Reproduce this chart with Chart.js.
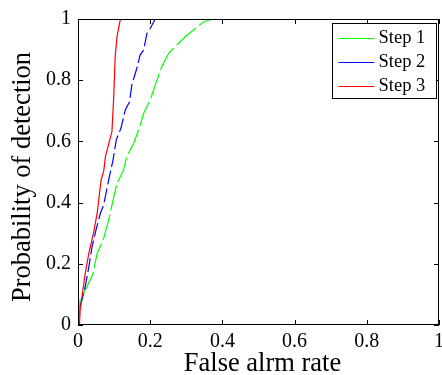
<!DOCTYPE html>
<html>
<head>
<meta charset="utf-8">
<script src="https://cdn.jsdelivr.net/npm/chart.js@4/dist/chart.umd.min.js"></script>
<style>
  html, body { margin: 0; padding: 0; background: #fff; }
  #wrap { width: 442px; height: 375px; }
</style>
</head>
<body>
<div id="wrap"><canvas id="roc" width="442" height="375"></canvas></div>
<script>
// values
const seriesNames = ['Step 1', 'Step 2', 'Step 3']
const seriesColors = ['#00ff00', '#0000ff', '#ff0000']

const step1X = [0, 0.006, 0.025, 0.042, 0.053, 0.071, 0.085, 0.094, 0.108, 0.126, 0.135, 0.154, 0.168, 0.182, 0.2, 0.219, 0.232, 0.251, 0.274, 0.297, 0.32, 0.348, 0.375, 0.532]
const step1Y = [0, 0.082, 0.125, 0.169, 0.234, 0.283, 0.343, 0.392, 0.463, 0.506, 0.55, 0.594, 0.637, 0.692, 0.735, 0.801, 0.844, 0.888, 0.915, 0.942, 0.964, 0.991, 1, 1]

const step2X = [0, 0.002, 0.011, 0.02, 0.03, 0.039, 0.051, 0.062, 0.071, 0.085, 0.097, 0.106, 0.119, 0.131, 0.143, 0.149, 0.163, 0.172, 0.182, 0.191, 0.2, 0.214, 0.31]
const step2Y = [0, 0.038, 0.082, 0.125, 0.19, 0.256, 0.316, 0.365, 0.392, 0.474, 0.539, 0.605, 0.643, 0.703, 0.73, 0.784, 0.839, 0.882, 0.899, 0.953, 0.969, 1, 1]

const step3X = [0.004, 0.006, 0.02, 0.03, 0.043, 0.053, 0.064, 0.071, 0.076, 0.088, 0.094, 0.099, 0.103, 0.108, 0.117, 0.122]
const step3Y = [0, 0.049, 0.169, 0.234, 0.3, 0.365, 0.474, 0.501, 0.55, 0.605, 0.632, 0.746, 0.877, 0.942, 0.997, 1]

const xTicks = [0, 0.2, 0.4, 0.6, 0.8, 1]
const yTicks = [0, 0.2, 0.4, 0.6, 0.8, 1]

const xTitle = 'False alrm rate'
const yTitle = 'Probability of detection'

const serif = '"Liberation Serif", "DejaVu Serif", serif'

const toPoints = (xs, ys) => xs.map((x, i) => ({ x, y: ys[i] }))

const seriesData = [toPoints(step1X, step1Y), toPoints(step2X, step2Y), toPoints(step3X, step3Y)]
const dashes = [[26, 4], [14, 4], []]

// frame, inward ticks on all four sides, axis titles and the boxed legend
const framePlugin = {
  id: 'frame',
  afterDraw (chart) {
    const { ctx, chartArea: a, scales } = chart
    ctx.save()
    ctx.strokeStyle = '#000'
    ctx.lineWidth = 1
    ctx.strokeRect(a.left + 0.5, a.top + 0.5, a.right - a.left - 1, a.bottom - a.top - 1)
    ctx.beginPath()
    xTicks.forEach(v => {
      const px = Math.round(scales.x.getPixelForValue(v)) + 0.5
      ctx.moveTo(px, a.bottom); ctx.lineTo(px, a.bottom - 5)
      ctx.moveTo(px, a.top); ctx.lineTo(px, a.top + 5)
    })
    yTicks.forEach(v => {
      const py = Math.round(scales.y.getPixelForValue(v)) + 0.5
      ctx.moveTo(a.left, py); ctx.lineTo(a.left + 5, py)
      ctx.moveTo(a.right, py); ctx.lineTo(a.right - 5, py)
    })
    ctx.stroke()

    // axis titles
    ctx.fillStyle = '#000'
    ctx.textAlign = 'center'
    ctx.textBaseline = 'alphabetic'
    ctx.font = '26.5px ' + serif
    ctx.fillText(xTitle, (a.left + a.right) / 2 + 4, 370.5)
    ctx.save()
    ctx.translate(30, 177)
    ctx.rotate(-Math.PI / 2)
    ctx.font = '26.5px ' + serif
    ctx.fillText(yTitle, 0, 0)
    ctx.restore()

    // legend
    const bx = 332.5, by = 23.5, bw = 104, bh = 75
    ctx.fillStyle = '#fff'
    ctx.fillRect(bx, by, bw, bh)
    ctx.strokeRect(bx, by, bw, bh)
    ctx.font = '18.5px ' + serif
    ctx.textBaseline = 'middle'
    ctx.textAlign = 'left'
    chart.data.datasets.forEach((ds, i) => {
      const y = by + 14 + i * 24
      ctx.strokeStyle = ds.borderColor
      ctx.beginPath()
      ctx.moveTo(bx + 6, Math.round(y) + 0.5)
      ctx.lineTo(bx + 42, Math.round(y) + 0.5)
      ctx.stroke()
      ctx.fillStyle = '#000'
      ctx.fillText(ds.label, bx + 46, y + 1)
    })
    ctx.restore()
  }
}

const ctx = document.getElementById('roc').getContext('2d')
// eslint-disable-next-line
new Chart(ctx, {
  type: 'line',
  data: {
    datasets: seriesNames.map((name, i) => ({
      label: name,
      data: seriesData[i],
      borderColor: seriesColors[i],
      backgroundColor: seriesColors[i],
      borderWidth: 1.2,
      borderDash: dashes[i],
      pointRadius: 0,
      tension: 0,
      fill: false,
      order: 3 - i
    }))
  },
  options: {
    responsive: false,
    animation: false,
    layout: { padding: { top: 19, right: 3, left: 0, bottom: 0 } },
    plugins: {
      legend: { display: false },
      tooltip: { enabled: false }
    },
    scales: {
      x: {
        type: 'linear',
        min: 0,
        max: 1,
        afterBuildTicks: scale => { scale.ticks = xTicks.map(value => ({ value })) },
        afterFit: scale => {
          scale.height = 50
          scale.paddingLeft = 0
          scale.paddingRight = 0
        },
        grid: { display: false, drawTicks: false },
        border: { display: false },
        ticks: {
          color: '#000',
          padding: 5,
          maxRotation: 0,
          callback: v => String(v),
          font: { family: serif, size: 20 }
        }
      },
      y: {
        type: 'linear',
        min: 0,
        max: 1,
        afterBuildTicks: scale => { scale.ticks = yTicks.map(value => ({ value })) },
        afterFit: scale => {
          scale.width = 78
          scale.paddingTop = 0
          scale.paddingBottom = 0
        },
        grid: { display: false, drawTicks: false },
        border: { display: false },
        ticks: {
          color: '#000',
          padding: 7,
          callback: v => String(v),
          font: { family: serif, size: 20 }
        }
      }
    }
  },
  plugins: [framePlugin]
})
</script>
</body>
</html>
